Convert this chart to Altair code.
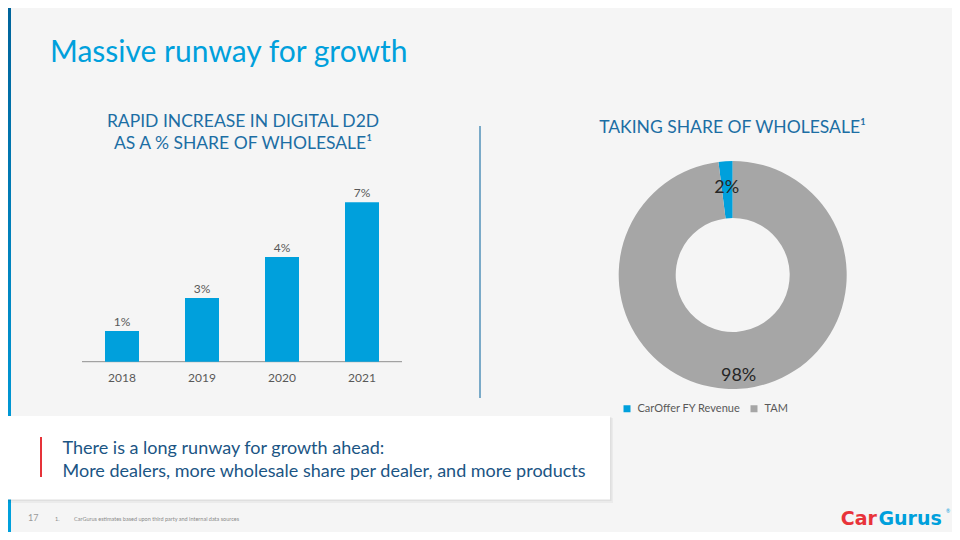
import altair as alt
import pandas as pd

# ---------------- data ----------------
years = ["2018", "2019", "2020", "2021"]
d2d_share = [1.35, 2.8, 4.6, 7.0]
d2d_labels = ["1%", "3%", "4%", "7%"]

segments = ["CarOffer FY Revenue", "TAM"]
segment_share = [2, 98]
segment_labels = ["2%", "98%"]

# page has an 8px margin: convert reference (page) coords to chart coords
OX, OY = 8, 8


def px(v):
    return v - OX


def py(v):
    return v - OY


FONT = "Lato"
one = pd.DataFrame({"k": [0]})


def rect(x1, y1, x2, y2, **mk):
    return alt.Chart(one).mark_rect(**mk).encode(
        x=alt.value(px(x1)), x2=alt.value(px(x2)),
        y=alt.value(py(y1)), y2=alt.value(py(y2)))


def rule(x1, y1, x2, y2, **mk):
    return alt.Chart(one).mark_rule(**mk).encode(
        x=alt.value(px(x1)), x2=alt.value(px(x2)),
        y=alt.value(py(y1)), y2=alt.value(py(y2)))


def text(x, y, s, **mk):
    opts = dict(font=FONT, baseline="alphabetic", align="left")
    opts.update(mk)
    return alt.Chart(one).mark_text(text=s, **opts).encode(
        x=alt.value(px(x)), y=alt.value(py(y)))


# ---------------- decorations ----------------
stripe_grad = alt.LinearGradient(
    gradient="linear",
    stops=[alt.GradientStop(offset=0, color="#00639a"),
           alt.GradientStop(offset=1, color="#0097d4")],
    x1=0, x2=0, y1=0, y2=1)

stripe_top = rect(0, 0, 11, 416, fill=stripe_grad)
stripe_bottom = rect(0, 499, 11, 540, color="#00a0dc")

title = text(50, 61.5, "Massive runway for growth", fontSize=30, color="#00a0dc")

left_t1 = text(243, 126.5, "RAPID INCREASE IN DIGITAL D2D", fontSize=17.5,
               color="#1c6ea4", align="center")
left_t2 = text(243, 148.5, "AS A % SHARE OF WHOLESALE¹", fontSize=17.5,
               color="#1c6ea4", align="center")
right_t = text(732.5, 132.5, "TAKING SHARE OF WHOLESALE¹", fontSize=17.5,
               color="#1c6ea4", align="center")

divider = rule(480, 126, 480, 398, color="#7aaac8", strokeWidth=2)

shadow1 = rect(0, 418, 613, 503, color="#000000", opacity=0.04)
shadow2 = rect(0, 417, 611.5, 501, color="#000000", opacity=0.05)
white_box = rect(0, 416, 610, 499.5, color="#ffffff")
red_bar = rect(40, 437, 42, 477, color="#e63339")
box_l1 = text(62.5, 453.5, "There is a long runway for growth ahead:",
              fontSize=18, color="#1b5584")
box_l2 = text(62.5, 476.5,
              "More dealers, more wholesale share per dealer, and more products",
              fontSize=18, color="#1b5584")

page_no = text(28, 521, "17", fontSize=9, color="#9a9a9a")
foot_n = text(55, 520.5, "1.", fontSize=5.5, color="#8a8a8a")
foot_t = text(74, 520.5,
              "CarGurus estimates based upon third party and internal data sources",
              fontSize=5.5, color="#8a8a8a")

logo_car = text(877, 525, "Car", fontSize=19, fontWeight="bold",
                font="DejaVu Sans", color="#e8333a", align="right")
logo_gurus = text(878.5, 525, "Gurus", fontSize=19, fontWeight="bold",
                  font="DejaVu Sans", color="#00a0dc", align="left")
logo_r = text(946, 513, "®", fontSize=5, color="#00a0dc")

# ---------------- bar chart ----------------
bar_df = pd.DataFrame({"year": years, "share": d2d_share, "label": d2d_labels})

x_enc = alt.X("year:N", axis=None,
              scale=alt.Scale(domain=years, range=[px(82), px(402)],
                              paddingInner=0.575, paddingOuter=0.2875))
y_enc = alt.Y("share:Q", axis=None,
              scale=alt.Scale(domain=[0, 7], nice=False, zero=True,
                              range=[py(361.7), py(202.3)]))

bars = alt.Chart(bar_df).mark_bar(color="#00a0dc").encode(x=x_enc, y=y_enc)
bar_vals = alt.Chart(bar_df).mark_text(
    font=FONT, fontSize=12, color="#595959", dy=-5, baseline="alphabetic"
).encode(x=x_enc, y=y_enc, text="label:N")
baseline = rule(82, 361.7, 402, 361.7, color="#8f8f8f", strokeWidth=1)
year_lbls = alt.Chart(bar_df).mark_text(
    font=FONT, fontSize=12, color="#595959", baseline="alphabetic"
).encode(x=x_enc, y=alt.value(py(381.5)), text="year:N")

# ---------------- donut ----------------
donut_df = pd.DataFrame({"segment": segments, "share": segment_share,
                         "label": segment_labels})
theta = alt.Theta("share:Q", stack=True)
order = alt.Order("segment:N", sort="descending")
cx, cy = px(732.7), py(275)

arc = alt.Chart(donut_df).mark_arc(innerRadius=57, outerRadius=114).encode(
    theta=theta, order=order,
    color=alt.Color(
        "segment:N",
        scale=alt.Scale(domain=segments, range=["#00a0dc", "#a6a6a6"]),
        legend=alt.Legend(
            orient="none", legendX=px(621.5), legendY=py(403),
            direction="horizontal", title=None, symbolType="square",
            symbolSize=49, symbolStrokeWidth=0, labelFont=FONT,
            labelFontSize=11, labelColor="#595959", labelOffset=5,
            columnPadding=8, padding=0)),
    x=alt.value(cx), y=alt.value(cy))

arc_text = alt.Chart(donut_df).mark_text(
    radius=94, font=FONT, fontSize=18, color="#262626", dy=7,
    baseline="middle"
).encode(theta=theta, order=order, detail="segment:N", text="label:N",
         x=alt.value(cx), y=alt.value(cy))

chart = alt.layer(
    stripe_top, stripe_bottom, title, left_t1, left_t2, right_t, divider,
    baseline, bars, bar_vals, year_lbls,
    arc, arc_text,
    shadow1, shadow2, white_box, red_bar, box_l1, box_l2,
    page_no, foot_n, foot_t, logo_car, logo_gurus, logo_r,
).properties(
    width=944, height=524,
    autosize=alt.AutoSizeParams(type="none"),
    padding=0,
).configure(background="#f5f5f5").configure_view(stroke=None)

chart.save("out.html", embed_options={"renderer": "svg", "actions": False})
